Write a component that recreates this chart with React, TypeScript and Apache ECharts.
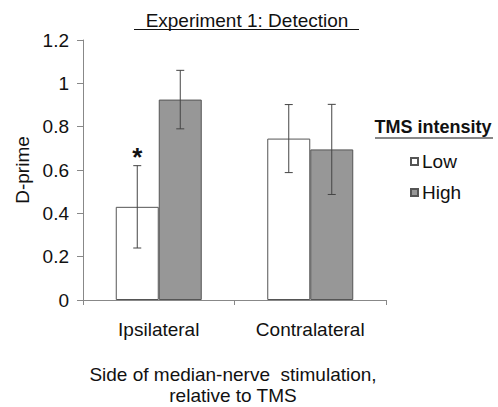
import React, { useEffect, useRef } from "react";
import * as echarts from "echarts";

const categories = ["Ipsilateral", "Contralateral"];
const seriesNames = ["Low", "High"];
const lowValues = [0.43, 0.745];
const highValues = [0.925, 0.695];
const lowErrors = [0.19, 0.157];
const highErrors = [0.135, 0.208];
const lowSignificant = [true, false];
const highSignificant = [false, false];
const yMin = 0;
const yMax = 1.2;
const yInterval = 0.2;

const FONT = "'Liberation Sans', Arial, sans-serif";
const FS = 19;
const BAR_W = 43;

export default function App() {
  const ref = useRef<HTMLDivElement>(null);
  useEffect(() => {
    if (!ref.current) return;
    const chart = echarts.init(ref.current, undefined, { renderer: "svg" });

    const errData: any[] = [];
    categories.forEach((_, i) => {
      errData.push([i, lowValues[i], lowErrors[i], 0, lowSignificant[i] ? 1 : 0]);
      errData.push([i, highValues[i], highErrors[i], 1, highSignificant[i] ? 1 : 0]);
    });

    chart.setOption({
      animation: false,
      grid: { left: 83, right: 112, top: 40, bottom: 107 },
      legend: {
        data: seriesNames,
        orient: "vertical",
        left: 405,
        top: 147,
        icon: "rect",
        itemWidth: 7,
        itemHeight: 7,
        itemGap: 12,
        textStyle: { fontFamily: FONT, fontSize: FS, lineHeight: 19, color: "#111", padding: [0, 0, 0, -1] },
        selectedMode: false,
      },
      xAxis: {
        type: "category",
        data: categories,
        axisLine: { lineStyle: { color: "#888", width: 1 } },
        axisTick: { show: true, alignWithLabel: false, length: 5, lineStyle: { color: "#888" } },
        axisLabel: { fontFamily: FONT, fontSize: FS, color: "#111", margin: 20 },
      },
      yAxis: {
        type: "value",
        min: yMin,
        max: yMax,
        interval: yInterval,
        splitLine: { show: false },
        axisLine: { show: true, lineStyle: { color: "#888", width: 1 } },
        axisTick: { show: true, length: 6, lineStyle: { color: "#888" } },
        axisLabel: { fontFamily: FONT, fontSize: FS, color: "#111", margin: 14 },
      },
      series: [
        {
          name: "Low",
          type: "bar",
          data: lowValues,
          barWidth: BAR_W,
          barGap: "0%",
          itemStyle: { color: "#ffffff", borderColor: "#555", borderWidth: 1 },
        },
        {
          name: "High",
          type: "bar",
          data: highValues,
          barWidth: BAR_W,
          barGap: "0%",
          itemStyle: { color: "#979797", borderColor: "#555", borderWidth: 1 },
        },
        {
          name: "err",
          type: "custom",
          z: 5,
          encode: { x: 0, y: 1 },
          data: errData,
          renderItem: (params: any, api: any) => {
            const ci = api.value(0);
            const mean = api.value(1);
            const err = api.value(2);
            const s = api.value(3);
            const star = api.value(4);
            const off = s === 0 ? -BAR_W / 2 : BAR_W / 2;
            const top = api.coord([ci, mean + err]);
            const bot = api.coord([ci, mean - err]);
            const x = top[0] + off;
            const cap = 4;
            const st = { stroke: "#444", lineWidth: 1 };
            const children: any[] = [
              { type: "line", shape: { x1: x, y1: top[1], x2: x, y2: bot[1] }, style: st },
              { type: "line", shape: { x1: x - cap, y1: top[1], x2: x + cap, y2: top[1] }, style: st },
              { type: "line", shape: { x1: x - cap, y1: bot[1], x2: x + cap, y2: bot[1] }, style: st },
            ];
            if (star) {
              children.push({
                type: "text",
                x: x,
                y: top[1] - 9,
                style: {
                  text: "*",
                  fontFamily: FONT,
                  fontSize: 26,
                  fontWeight: "bold",
                  fill: "#111",
                  textAlign: "center",
                  textVerticalAlign: "middle",
                },
              });
            }
            return { type: "group", children };
          },
        },
      ],
      graphic: [
        {
          type: "text",
          x: 247,
          y: 20,
          style: {
            text: "Experiment 1: Detection",
            fontFamily: FONT,
            fontSize: FS,
            fill: "#111",
            textAlign: "center",
            textVerticalAlign: "middle",
          },
        },
        { type: "line", shape: { x1: 134, y1: 29.5, x2: 359, y2: 29.5 }, style: { stroke: "#111", lineWidth: 1.2 } },
        {
          type: "text",
          x: 433,
          y: 127,
          style: {
            text: "TMS intensity",
            fontFamily: FONT,
            fontSize: 18,
            fontWeight: "bold",
            fill: "#111",
            textAlign: "center",
            textVerticalAlign: "middle",
          },
        },
        { type: "line", shape: { x1: 375, y1: 138, x2: 493, y2: 138 }, style: { stroke: "#111", lineWidth: 1.2 } },
        {
          type: "text",
          x: 22,
          y: 170,
          rotation: Math.PI / 2,
          style: {
            text: "D-prime",
            fontFamily: FONT,
            fontSize: FS,
            fill: "#111",
            textAlign: "center",
            textVerticalAlign: "middle",
          },
        },
        {
          type: "text",
          x: 233,
          y: 374,
          style: {
            text: "Side of median-nerve  stimulation,",
            fontFamily: FONT,
            fontSize: FS,
            fill: "#111",
            textAlign: "center",
            textVerticalAlign: "middle",
          },
        },
        {
          type: "text",
          x: 233,
          y: 395,
          style: {
            text: "relative to TMS",
            fontFamily: FONT,
            fontSize: FS,
            fill: "#111",
            textAlign: "center",
            textVerticalAlign: "middle",
          },
        },
      ],
    });
    return () => chart.dispose();
  }, []);
  return <div ref={ref} style={{ width: 498, height: 407, position: "absolute", left: 0, top: 0 }} />;
}
